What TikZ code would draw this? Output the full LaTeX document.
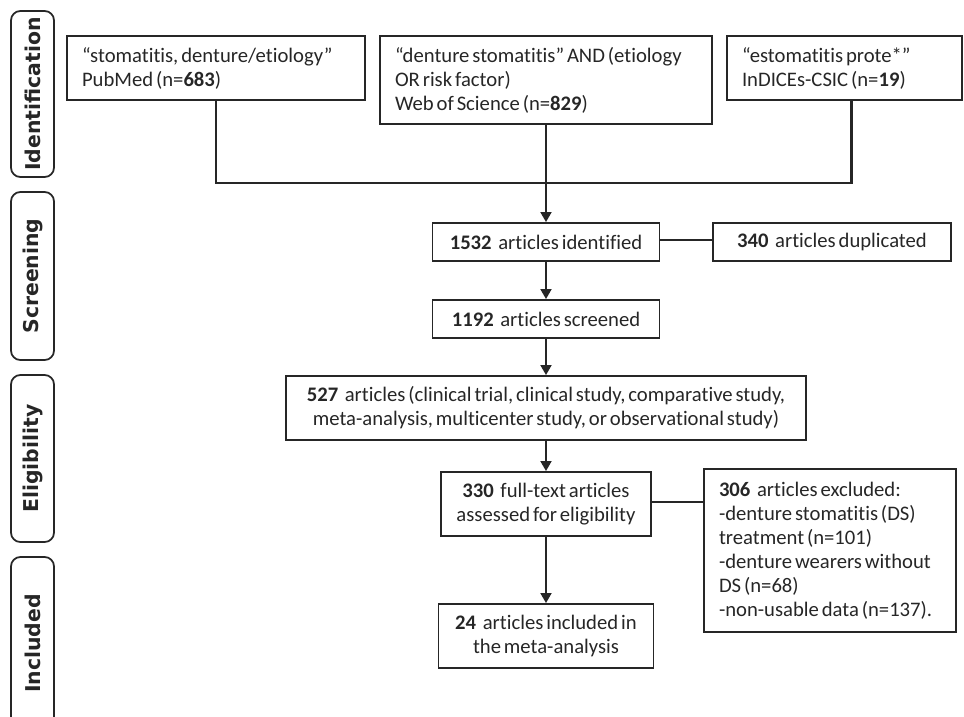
\documentclass[tikz,border=0pt]{standalone}
\usepackage{fontspec}
\setmainfont{Carlito}[Ligatures=NoCommon, WordSpace=0.62]
\newfontfamily\stagefont{DejaVu Sans}
\usetikzlibrary{arrows.meta}
\definecolor{ink}{gray}{0.15}
\newcommand{\cnt}[1]{\textbf{#1}\hspace{0.32em}}

\tikzstyle{box}=[draw=ink, line width=1.3pt, text=ink, inner sep=0pt, font=\fontsize{15.5}{18}\selectfont]
\tikzstyle{lbox}=[box, align=flush left, inner xsep=11.25pt]
\tikzstyle{cbox}=[box, align=center]
\tikzstyle{stage}=[draw=ink, line width=1.3pt, rounded corners=7pt, rotate=90, minimum height=32.25pt, inner sep=0pt, text=ink, font=\stagefont\bfseries\fontsize{15.3}{18}\selectfont]
\tikzstyle{conn}=[draw=ink, line width=2.2pt, line join=miter]
\tikzstyle{arr}=[conn, -{Triangle[length=7.5pt,width=8pt]}]

\begin{document}
\begin{tikzpicture}[x=0.75pt, y=-0.75pt]
\useasboundingbox (0,0) rectangle (964,717);

\node[stage, minimum width=124.5pt](sIdent) at (32.5,94) {Identification};
\node[stage, minimum width=126pt](sScreen) at (32.5,276) {Screening};
\node[stage, minimum width=125.25pt](sElig) at (32.5,458.5) {Eligibility};
\node[stage, minimum width=129.75pt](sIncl) at (32.5,643.5) {Included};

\node[lbox, text width=201pt, minimum height=48pt](pub) at (216,68) {“stomatitis, denture/etiology”\\PubMed (n=\textbf{683})};
\node[lbox, text width=226.5pt, minimum height=66pt](wos) at (546,80) {“denture stomatitis” AND (etiology\\OR risk factor)\\Web of Science (n=\textbf{829})};
\node[lbox, text width=153.75pt, minimum height=48pt](ind) at (844.5,68) {“estomatitis prote*”\\InDICEs-CSIC (n=\textbf{19})};

\node[cbox, minimum width=170.25pt, minimum height=28.5pt](ident) at (546,242) {\cnt{1532}articles identified};
\node[cbox, minimum width=178.5pt, minimum height=28.5pt](dup) at (832,242) {\cnt{340}articles duplicated};
\node[cbox, minimum width=170.25pt, minimum height=28.5pt](scr) at (546,319) {\cnt{1192}articles screened};
\node[cbox, minimum width=390pt, minimum height=48pt](elig) at (546,408) {\cnt{527}articles (clinical trial, clinical study, comparative study,\\meta-analysis, multicenter study, or observational study)};
\node[cbox, minimum width=157.5pt, minimum height=48pt](full) at (546,504) {\cnt{330}full-text articles\\assessed for eligibility};
\node[lbox, text width=166.5pt, minimum height=122.25pt](excl) at (830,550.5) {\cnt{306}articles excluded:\\-denture stomatitis (DS)\\treatment (n=101)\\-denture wearers without\\DS (n=68)\\-non-usable data (n=137).};
\node[cbox, minimum width=161.25pt, minimum height=48pt](incl) at (546,636) {\cnt{24}articles included in\\the meta-analysis};

\coordinate (merge) at (546,183);
\draw[conn] (pub.south) |- (merge) -| ([xshift=5.25pt]ind.south);
\draw[arr] (wos.south) -- (ident.north);
\draw[conn] ([yshift=1.5pt]ident.east) -- ([yshift=1.5pt]dup.west);
\draw[arr] (ident.south) -- (scr.north);
\draw[arr] (scr.south) -- (elig.north);
\draw[arr] (elig.south) -- (full.north);
\draw[conn] ([yshift=1.5pt]full.east) -- ([yshift=1.5pt]full.east -| excl.west);
\draw[arr] (full.south) -- (incl.north);
\end{tikzpicture}
\end{document}
